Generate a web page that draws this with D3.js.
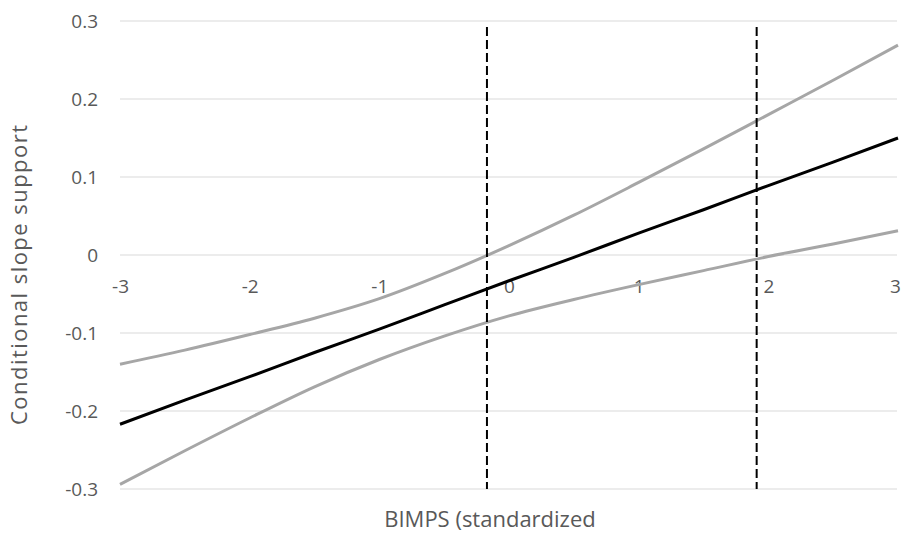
<!DOCTYPE html>
<html>
<head>
<meta charset="utf-8">
<script src="https://cdn.jsdelivr.net/npm/d3@7"></script>
<style>
  body { margin: 0; background: #ffffff; }
  text { font-family: 'Open Sans', 'Noto Sans', sans-serif; fill: #595959; }
</style>
</head>
<body>
<svg></svg>
<script>
let xValues = [-3, -2.5, -2, -1.5, -1, -0.5, 0, 0.5, 1, 1.5, 2, 2.5, 3]
let slope = [-0.217, -0.186, -0.156, -0.125, -0.095, -0.064, -0.033, -0.003, 0.028, 0.058, 0.089, 0.119, 0.150]
let upper = [-0.140, -0.122, -0.102, -0.081, -0.056, -0.024, 0.012, 0.051, 0.093, 0.136, 0.180, 0.224, 0.269]
let lower = [-0.294, -0.251, -0.209, -0.169, -0.134, -0.104, -0.078, -0.057, -0.038, -0.020, -0.002, 0.014, 0.031]
let markers = [-0.17, 1.91]
let xTicks = [-3, -2, -1, 0, 1, 2, 3]
let yTicks = [-0.3, -0.2, -0.1, 0, 0.1, 0.2, 0.3]

let width = 901
let height = 541
let plotLeft = 120
let plotRight = 898
let plotTop = 21
let plotBottom = 489

let svg = d3.select('svg')
    .attr('width', width)
    .attr('height', height)

let xScale = d3.scaleLinear().domain([-3, 3]).range([plotLeft, plotRight])
let yScale = d3.scaleLinear().domain([-0.3, 0.3]).range([plotBottom, plotTop])

// gridlines
svg.append('g')
    .selectAll('line')
    .data(yTicks)
    .enter()
    .append('line')
    .attr('x1', plotLeft)
    .attr('x2', plotRight - 1)
    .attr('y1', (d) => yScale(d))
    .attr('y2', (d) => yScale(d))
    .attr('stroke', '#d9d9d9')
    .attr('stroke-width', 1)

// y axis labels (plain hyphen like the original, not d3's unicode minus)
let yAxis = d3.axisLeft(yScale)
    .tickValues(yTicks)
    .tickFormat((d) => d === 0 ? '0' : d.toFixed(1))
    .tickSize(0)
    .tickPadding(22)
svg.append('g')
    .attr('transform', 'translate(' + plotLeft + ', 0)')
    .call(yAxis)
    .call((g) => g.select('.domain').remove())
    .call((g) => g.selectAll('text').style('font-size', '19px').attr('fill', '#595959'))

// x axis labels, sitting below the zero line
let xAxis = d3.axisBottom(xScale)
    .tickValues(xTicks)
    .tickFormat((d) => String(d))
    .tickSize(0)
    .tickPadding(25)
svg.append('g')
    .attr('transform', 'translate(0, ' + yScale(0) + ')')
    .call(xAxis)
    .call((g) => g.select('.domain').remove())
    .call((g) => g.selectAll('text')
        .style('font-size', '19px')
        .attr('fill', '#595959')
        .attr('dx', (d) => d === 3 ? -3 : 0))

let line = (values) => d3.line()
    .x((d, i) => xScale(xValues[i]))
    .y((d) => yScale(d))
    .curve(d3.curveMonotoneX)(values)

svg.append('path').attr('d', line(upper))
    .attr('fill', 'none').attr('stroke', '#a6a6a6').attr('stroke-width', 3)
svg.append('path').attr('d', line(lower))
    .attr('fill', 'none').attr('stroke', '#a6a6a6').attr('stroke-width', 3)
svg.append('path').attr('d', line(slope))
    .attr('fill', 'none').attr('stroke', '#000000').attr('stroke-width', 3)

// regions of significance
svg.selectAll('.marker')
    .data(markers)
    .enter()
    .append('line')
    .attr('class', 'marker')
    .attr('x1', (d) => xScale(d))
    .attr('x2', (d) => xScale(d))
    .attr('y1', plotTop + 6)
    .attr('y2', plotBottom)
    .attr('stroke', '#000000')
    .attr('stroke-width', 2)
    .attr('stroke-dasharray', '9,4')

svg.append('text')
    .attr('x', 490)
    .attr('y', 527)
    .attr('text-anchor', 'middle')
    .style('font-size', '22px')
    .text('BIMPS (standardized')

svg.append('text')
    .attr('transform', 'translate(27, 275) rotate(-90)')
    .attr('text-anchor', 'middle')
    .attr('textLength', 300)
    .attr('lengthAdjust', 'spacing')
    .style('font-size', '22px')
    .text('Conditional slope support')
</script>
</body>
</html>
